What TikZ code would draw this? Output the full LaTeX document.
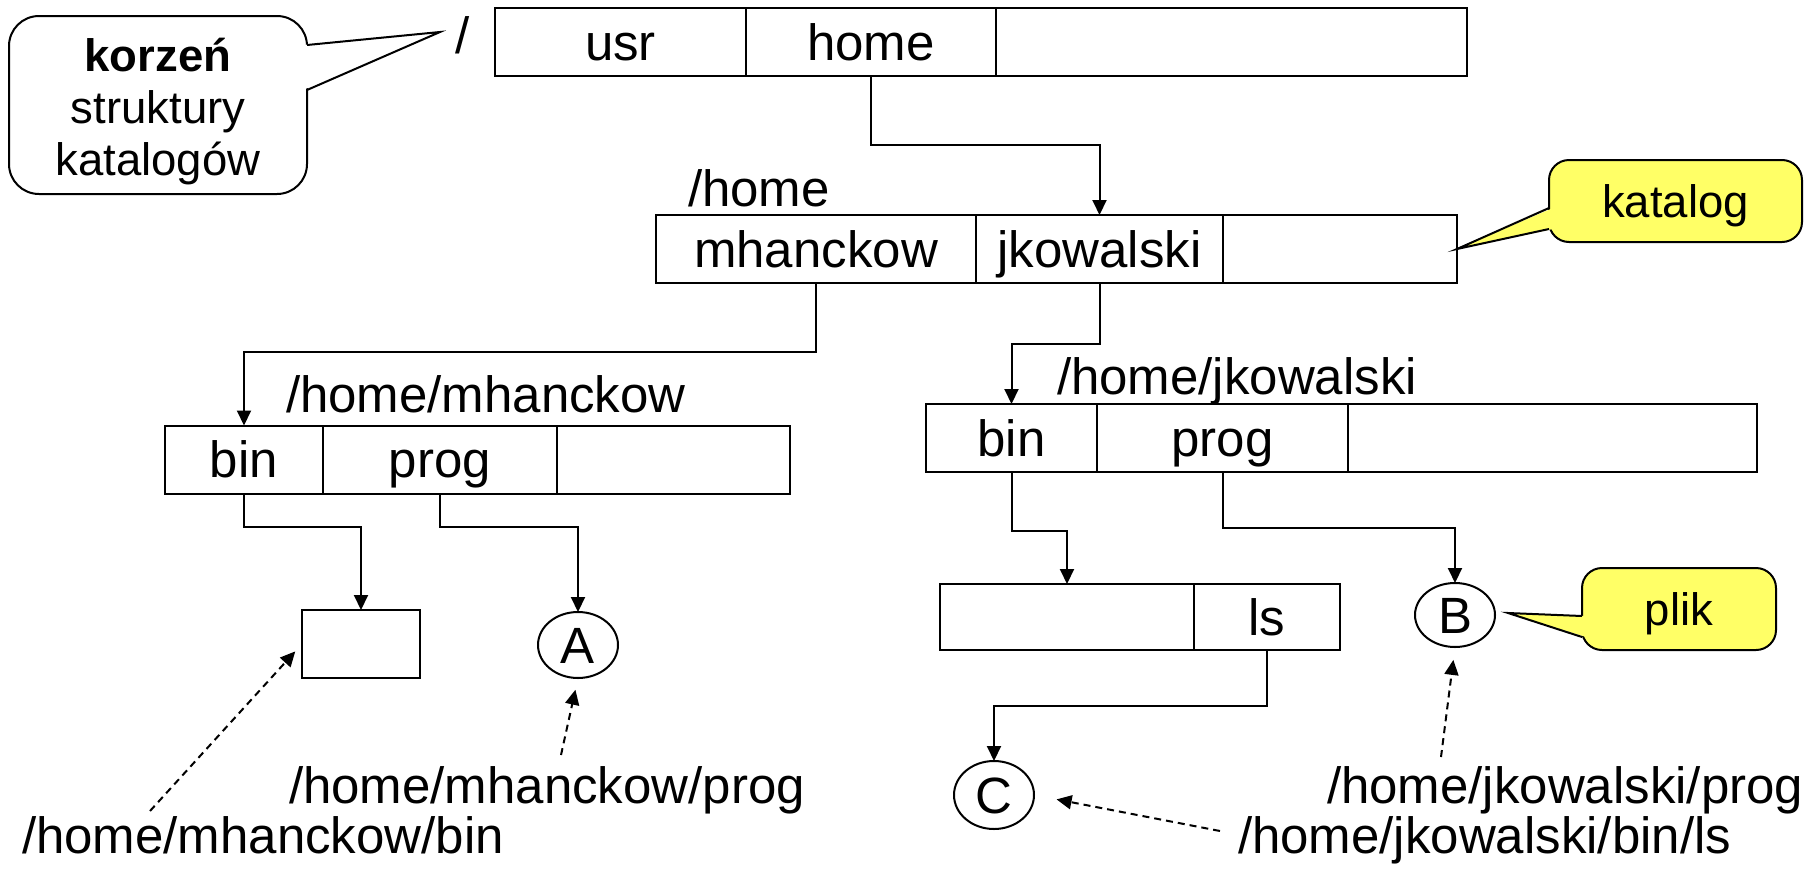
\documentclass[tikz,border=0pt]{standalone}
\usepackage{fontspec}
\setmainfont{Liberation Sans}
\usetikzlibrary{arrows.meta,calc,shapes.geometric}
\definecolor{notefill}{RGB}{255,255,102}

\begin{document}
\begin{tikzpicture}[x=1pt,y=-1pt,
  every node/.style={font=\fontsize{51}{51}\selectfont, inner sep=0pt, outer sep=0pt},
  cell/.style={draw, line width=2pt, rectangle, minimum height=68pt,
               text height=36pt, text depth=0pt},
  fileobj/.style={draw, line width=2pt, ellipse, minimum width=80pt,
                  text height=36pt, text depth=0pt},
  pathlbl/.style={anchor=base west},
  conn/.style={line width=2pt, -{Triangle[length=15pt,width=14pt]}},
  dconn/.style={line width=2pt, dash pattern=on 7pt off 5pt,
                -{Triangle[length=15pt,width=14pt]}},
  notefont/.style={font=\fontsize{45.5}{45.5}\selectfont},
  notebox/.style={draw, line width=2pt, rectangle, notefont,
                  text height=32pt, text depth=0pt},
  tailline/.style={line width=2pt, line join=miter}
]
\useasboundingbox (0,0) rectangle (1805,868);

% root directory
\node (slash) at (463,35) {/};
\node[cell, minimum width=251pt] (usr)   at (620.5,42) {usr};
\node[cell, minimum width=250pt] (home)  at (871,42)   {home};
\node[cell, minimum width=471pt] (rootE) at (1231.5,42) {};

% /home
\node[pathlbl] (lblhome) at (688,206) {/home};
\node[cell, minimum width=320pt] (mh)    at (816,249)    {mhanckow};
\node[cell, minimum width=247pt] (jk)    at (1099.5,249) {jkowalski};
\node[cell, minimum width=234pt] (homeE) at (1340,249)   {};

% /home/mhanckow
\node[pathlbl] (lblmh) at (286,412) {/home/mhanckow};
\node[cell, minimum width=158pt] (binL)  at (244,459.5)   {bin};
\node[cell, minimum width=234pt] (progL) at (440,459.5)   {prog};
\node[cell, minimum width=233pt] (mhE)   at (673.5,459.5) {};

% /home/jkowalski
\node[pathlbl] (lbljk) at (1057,394) {/home/jkowalski};
\node[cell, minimum width=171pt] (binR)  at (1011.5,438) {bin};
\node[cell, minimum width=251pt] (progR) at (1222.5,438) {prog};
\node[cell, minimum width=409pt] (jkE)   at (1552.5,438) {};

% contents of the bin directories and the files
\node[cell, minimum width=118pt] (sbox) at (361,644) {};
\node[cell, minimum width=254pt, minimum height=66pt] (lsE) at (1067,617) {};
\node[cell, minimum width=146pt, minimum height=66pt] (ls)  at (1267,617) {ls};
\node[fileobj, minimum height=66pt] (A) at (578,645)  {A};
\node[fileobj, minimum height=64pt] (B) at (1455,615) {B};
\node[fileobj, minimum height=68pt] (C) at (994,795)  {C};

% directory links
\draw[conn] (home.south)  -- ++(0,69) -| (jk.north);
\draw[conn] (mh.south)    -- ++(0,69) -| (binL.north);
\draw[conn] (jk.south)    -- ++(0,61) -| (binR.north);
\draw[conn] (binL.south)  -- ++(0,33) -| (sbox.north);
\draw[conn] (progL.south) -- ++(0,33) -| (A.north);
\draw[conn] (binR.south)  -- ++(0,59) -| (lsE.north);
\draw[conn] (progR.south) -- ++(0,56) -| (B.north);
\draw[conn] (ls.south)    -- ++(0,56) -| (C.north);

% full path names
\node[pathlbl] (pmprog) at (289,803)  {/home/mhanckow/prog};
\node[pathlbl] (pmbin)  at (22,853)   {/home/mhanckow/bin};
\node[pathlbl] (pjprog) at (1327,803) {/home/jkowalski/prog};
\node[pathlbl] (pjls)   at (1238,853) {/home/jkowalski/bin/ls};

\coordinate (dmbin)  at (150,811);
\coordinate (dmprog) at (561,755);
\coordinate (djprog) at (1441,757);
\coordinate (djls)   at (1220,831);
\draw[dconn, shorten >=10pt] (dmbin)  -- (sbox.west);
\draw[dconn, shorten >=12pt] (dmprog) -- (A.south);
\draw[dconn, shorten >=13pt] (djprog) -- (B.south);
\draw[dconn, shorten >=23pt] (djls)   -- (C.east);

% callout: root of the tree
\node[draw, line width=2pt, fill=white, rounded corners=30pt,
      minimum width=298pt, minimum height=178pt] (nroot) at (158,105) {};
\node[notefont, anchor=base] (troot1) at (158,71)  {\textbf{korzeń}};
\node[notefont, anchor=base] (troot2) at (158,123) {struktury};
\node[notefont, anchor=base] (troot3) at (158,175) {katalogów};
\coordinate (rtip) at (440,32);
\coordinate (rb1) at ($(nroot.north east)+(0,29)$);
\coordinate (rb2) at ($(nroot.north east)+(0,74)$);
\fill[white] (rtip) -- ($(rb1)+(-4,0)$) -- ($(rb2)+(-4,0)$) -- cycle;
\draw[tailline] (rb1) -- (rtip) -- (rb2);

% callout: directory
\node[notebox, fill=notefill, rounded corners=20pt,
      minimum width=253pt, minimum height=82pt] (nkat) at (1675.5,201) {katalog};
\coordinate (ktip) at (homeE.east);
\coordinate (kb1) at ($(nkat.west)+(0,7)$);
\coordinate (kb2) at ($(nkat.west)+(0,28)$);
\fill[notefill] (ktip) -- ($(kb1)+(4,0)$) -- ($(kb2)+(4,0)$) -- cycle;
\draw[tailline] (kb1) -- (ktip) -- (kb2);

% callout: file
\node[notebox, fill=notefill, rounded corners=20pt,
      minimum width=194pt, minimum height=82pt] (nplik) at (1679,609) {plik};
\coordinate (ptip) at (1508,613);
\coordinate (pb1) at ($(nplik.west)+(0,7)$);
\coordinate (pb2) at ($(nplik.west)+(0,28)$);
\fill[notefill] (ptip) -- ($(pb1)+(4,0)$) -- ($(pb2)+(4,0)$) -- cycle;
\draw[tailline] (pb1) -- (ptip) -- (pb2);
\end{tikzpicture}
\end{document}
